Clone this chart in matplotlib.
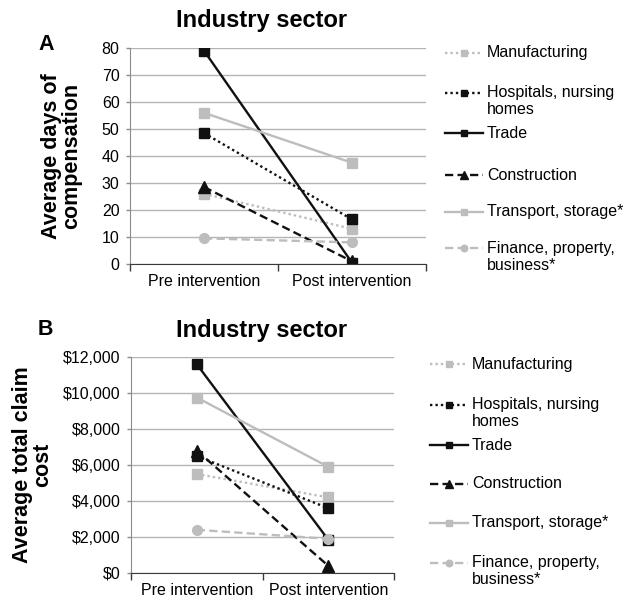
import matplotlib
matplotlib.use("Agg")
import matplotlib.pyplot as plt
from matplotlib.lines import Line2D
from matplotlib.ticker import FuncFormatter, FixedLocator

plt.rcParams['font.family'] = ['Liberation Sans', 'DejaVu Sans']

periods = ["Pre intervention", "Post intervention"]
sectors = ["Manufacturing", "Hospitals, nursing\nhomes", "Trade", "Construction",
           "Transport, storage*", "Finance, property,\nbusiness*"]

days_pre = [26.0, 48.5, 79.0, 28.5, 56.0, 9.5]
days_post = [13.0, 16.5, 0.5, 1.0, 37.5, 8.0]

cost_pre = [5500, 6500, 11600, 6800, 9750, 2400]
cost_post = [4200, 3600, 1850, 400, 5900, 1900]

GRAY = '#bdbdbd'
BLACK = '#111111'
dot = (0, (1.0, 1.3))
dash = (0, (3.5, 1.8))
styles = [
    dict(color=GRAY, linestyle=dot, marker='s', ms=7, z=3),
    dict(color=BLACK, linestyle=dot, marker='s', ms=7, z=4),
    dict(color=BLACK, linestyle='-', marker='s', ms=7, z=6),
    dict(color=BLACK, linestyle=dash, marker='^', ms=8, z=5),
    dict(color=GRAY, linestyle='-', marker='s', ms=7, z=7),
    dict(color=GRAY, linestyle=dash, marker='o', ms=7, z=8),
]

fig = plt.figure(figsize=(6.27, 6.0), dpi=100)
W, H = 627, 600


def px_rect(x0, y0, x1, y1):
    return [x0 / W, 1 - y1 / H, (x1 - x0) / W, (y1 - y0) / H]


def fy(y):
    return 1 - y / H


def draw_key(x0, x1, xt, rows):
    """Legend keys and labels placed in figure pixels."""
    for st, label, y in zip(styles, sectors, rows):
        fig.add_artist(Line2D([x0 / W, x1 / W], [fy(y), fy(y)],
                              transform=fig.transFigure, lw=1.7,
                              color=st['color'], linestyle=st['linestyle']))
        fig.add_artist(Line2D([(x0 + x1) / 2 / W], [fy(y)],
                              transform=fig.transFigure, lw=0,
                              marker=st['marker'], markersize=st['ms'] - 2.3,
                              color=st['color']))
        for k, part in enumerate(label.split('\n')):
            fig.text(xt / W, fy(y + 17 * k), part, fontsize=11.5,
                     ha='left', va='center')


def draw_panel(ax, pre, post, ylim, yticks, fmt):
    x = [0, 1]
    for i, st in enumerate(styles):
        ax.plot(x, [pre[i], post[i]], lw=1.7, color=st['color'],
                linestyle=st['linestyle'], marker=st['marker'],
                markersize=st['ms'], markerfacecolor=st['color'],
                markeredgecolor=st['color'], label=sectors[i],
                dash_capstyle='butt', zorder=st['z'])
    ax.set_xlim(-0.5, 1.5)
    ax.set_ylim(*ylim)
    ax.set_yticks(yticks)
    ax.yaxis.set_major_formatter(FuncFormatter(fmt))
    ax.xaxis.set_major_locator(FixedLocator([-0.5, 0.5, 1.5]))
    ax.set_xticklabels([])
    ax.set_xticks([0, 1], labels=periods, minor=True)
    ax.tick_params(axis='x', which='major', direction='out', length=5,
                   width=1, color='#3a3a3a')
    ax.tick_params(axis='x', which='minor', length=0, pad=7, labelsize=11.5)
    ax.tick_params(axis='y', direction='out', length=3, width=1,
                   color='#8c8c8c', pad=4.5, labelsize=11.5)
    ax.grid(axis='y', color='#b4b4b4', lw=1, zorder=0)
    ax.set_axisbelow(True)
    for s in ['top', 'right']:
        ax.spines[s].set_visible(False)
    ax.spines['left'].set_color('#8c8c8c')
    ax.spines['bottom'].set_color('#3a3a3a')
    ax.spines['bottom'].set_zorder(10)
    return ax


axA = fig.add_axes(px_rect(130, 48, 426, 264))
draw_panel(axA, days_pre, days_post, (0, 80), range(0, 81, 10),
           lambda v, p: f"{v:.0f}")
axA.set_ylabel("Average days of\ncompensation", fontsize=15.5, fontweight='bold',
               linespacing=0.95)
axA.yaxis.set_label_coords(-0.162, 0.5)
draw_key(445, 483, 487, [53, 93, 133, 175, 212, 248])

axB = fig.add_axes(px_rect(131, 357, 394, 573))
draw_panel(axB, cost_pre, cost_post, (0, 12000), range(0, 12001, 2000),
           lambda v, p: f"${v:,.0f}")
axB.set_ylabel("Average total claim\ncost", fontsize=15.5, fontweight='bold',
               linespacing=0.95)
axB.yaxis.set_label_coords(-0.297, 0.5)
draw_key(430, 468, 472, [364, 405, 445, 484, 523, 563])

fig.text(262 / W, fy(20), "Industry sector", fontsize=17, fontweight='bold',
         ha='center', va='center')
fig.text(262 / W, fy(330), "Industry sector", fontsize=17, fontweight='bold',
         ha='center', va='center')
fig.text(46 / W, fy(44), "A", fontsize=15.5, fontweight='bold',
         ha='center', va='center')
fig.text(45 / W, fy(329.5), "B", fontsize=15.5, fontweight='bold',
         ha='center', va='center')

fig.savefig("out.png", dpi=100)
